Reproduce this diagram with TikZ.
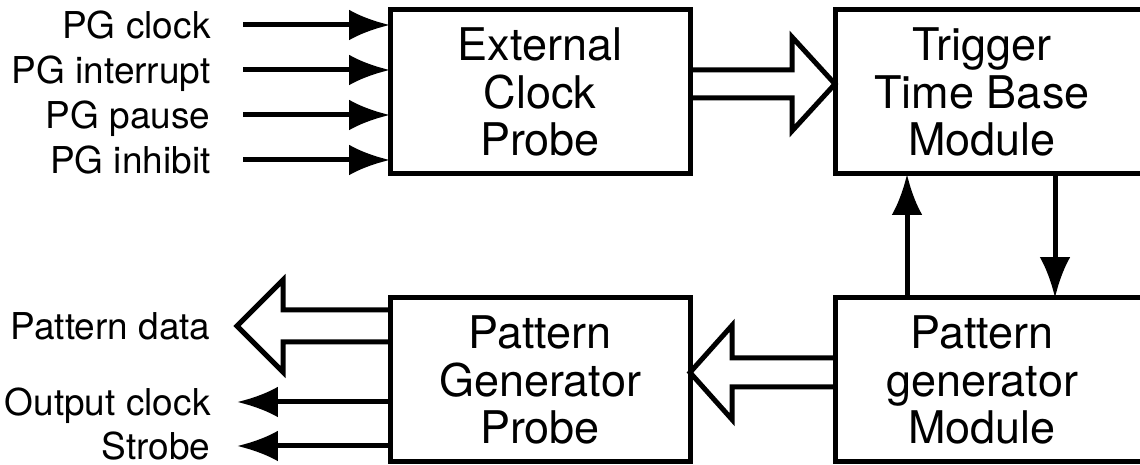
\documentclass[tikz,border=0pt]{standalone}
\usepackage{fontspec}
\setmainfont{TeX Gyre Heros}
\usetikzlibrary{arrows.meta,calc}

\begin{document}
\begin{tikzpicture}[x=1pt, y=1pt, line width=5pt,
    box/.style={draw, minimum width=300pt, minimum height=164pt, outer sep=0pt, align=center, font=\fontsize{45}{47.5}\selectfont},
    modtext/.style={minimum width=294pt, minimum height=164pt, outer sep=0pt, align=center, font=\fontsize{45}{47.5}\selectfont},
    lbl/.style={inner sep=0pt, text height=26.5pt, text depth=0pt, font=\fontsize{37}{41}\selectfont},
    sig/.style={-{Latex[scale=1.6]}},
    hollow/.style={line join=miter}]
    \path[use as bounding box] (0,0) rectangle (1140,465);
    \clip (0,0) rectangle (1140,465);
    \node[box] (ecp) at (540,373) {External\\Clock\\Probe};
    \node[box] (pgp) at (540,85)  {Pattern\\Generator\\Probe};
    \node[modtext] (tbm) at (982,373) {Trigger\\Time Base\\Module};
    \node[modtext] (pgm) at (982,85)  {Pattern\\generator\\Module};

    \draw ($(tbm.north west)+(330,0)$) -- (tbm.north west) -- (tbm.south west) -- ++(330,0);
    \draw ($(pgm.north west)+(330,0)$) -- (pgm.north west) -- (pgm.south west) -- ++(330,0);

    \node[lbl, anchor=east] (lclk)   at (213,440) {PG clock};
    \node[lbl, anchor=east] (lint)   at (213,395) {PG interrupt};
    \node[lbl, anchor=east] (lpause) at (213,350) {PG pause};
    \node[lbl, anchor=east] (linh)   at (213,305) {PG inhibit};
    \node[lbl, anchor=east] (ldata)  at (213,139) {Pattern data};
    \node[lbl, anchor=east] (loclk)  at (213,63)  {Output clock};
    \node[lbl, anchor=east] (lstrb)  at (213,19)  {Strobe};

    \draw[sig] ([xshift=30pt]lclk.east) -- (lclk.east -| ecp.west);
    \draw[sig] ([xshift=30pt]lint.east) -- (lint.east -| ecp.west);
    \draw[sig] ([xshift=30pt]lpause.east) -- (lpause.east -| ecp.west);
    \draw[sig] ([xshift=30pt]linh.east) -- (linh.east -| ecp.west);
    \draw[sig] (loclk.east -| pgp.west) -- ([xshift=24pt]loclk.east);
    \draw[sig] (lstrb.east -| pgp.west) -- ([xshift=24pt]lstrb.east);

    \coordinate (tipa) at ([yshift=8pt]tbm.west);
    \coordinate (tipb) at ([yshift=7.5pt]pgp.east);
    \coordinate (tipc) at ([xshift=24pt]ldata.east);
    \draw[hollow] ($(ecp.east |- tipa)+(0,14)$) -- ++(102,0) -- ++(0,33) -- (tipa)
        -- ++(-43,-47) -- ++(0,33) -- ($(ecp.east |- tipa)+(0,-14)$);
    \draw[hollow] ($(pgm.west |- tipb)+(0,14.5)$) -- ++(-103,0) -- ++(0,32.5) -- (tipb)
        -- ++(42,-47) -- ++(0,32.5) -- ($(pgm.west |- tipb)+(0,-14.5)$);
    \draw[hollow] ($(pgp.west |- tipc)+(0,16)$) -- ++(-107,0) -- ++(0,30) -- (tipc)
        -- ++(46,-46) -- ++(0,30) -- ($(pgp.west |- tipc)+(0,-16)$);

    \draw[sig] ([xshift=-75pt]pgm.north) -- ([xshift=-75pt]tbm.south);
    \draw[sig] ([xshift=73pt]tbm.south) -- ([xshift=73pt]pgm.north);
\end{tikzpicture}
\end{document}
